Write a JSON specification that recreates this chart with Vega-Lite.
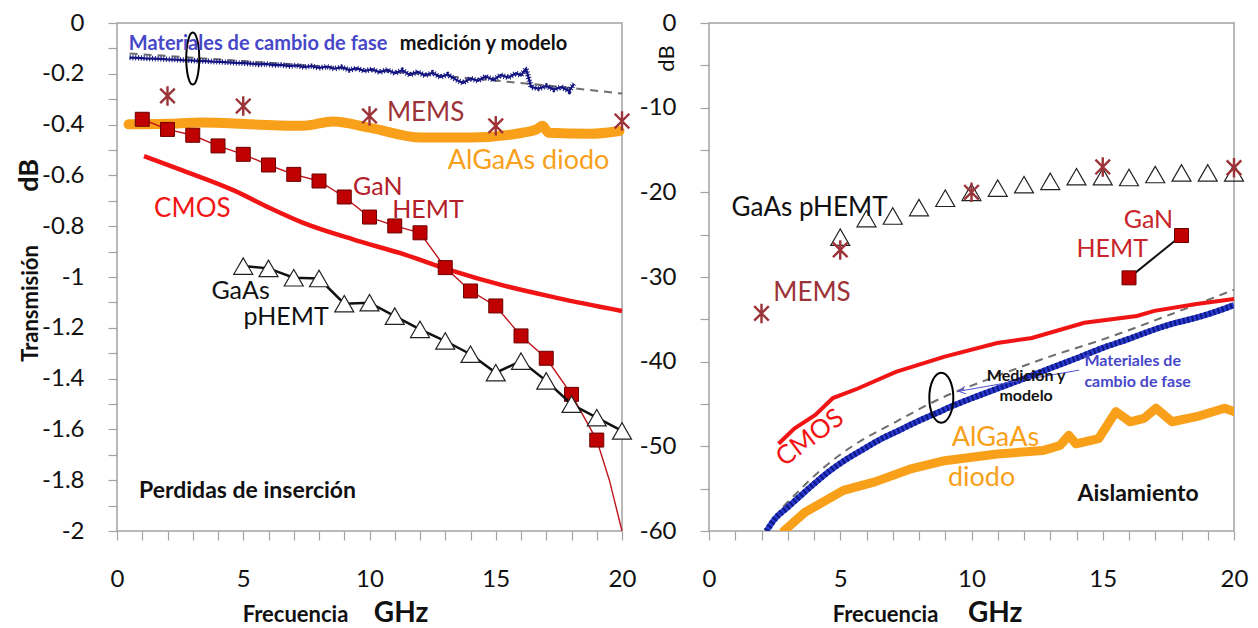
{
  "$schema": "https://vega.github.io/schema/vega-lite/v6.json",
  "background": "white",
  "padding": {"left": 15, "top": 10, "right": 4, "bottom": 0},
  "bounds": "flush",
  "spacing": 87,
  "config": {
    "font": "Lato",
    "view": {"stroke": "#a3a3a3", "strokeWidth": 1.5},
    "axis": {
      "grid": false,
      "domain": false,
      "tickColor": "#a3a3a3",
      "tickWidth": 1.2,
      "tickSize": 9,
      "labelFont": "Lato",
      "labelFontSize": 24,
      "labelColor": "#111111",
      "labelOverlap": false,
      "labelFlush": false,
      "labelBound": false,
      "titleFont": "Lato",
      "titleFontWeight": "bold",
      "titleColor": "#111111"
    }
  },
  "datasets": {
    "pcm_il": [
      {"f": 0.5, "db": -0.136}, {"f": 0.8, "db": -0.137}, {"f": 1.1, "db": -0.139}, {"f": 1.4, "db": -0.14},
      {"f": 1.7, "db": -0.141}, {"f": 2.0, "db": -0.143}, {"f": 2.3, "db": -0.144}, {"f": 2.6, "db": -0.146},
      {"f": 2.9, "db": -0.147}, {"f": 3.2, "db": -0.149}, {"f": 3.5, "db": -0.15}, {"f": 3.8, "db": -0.152},
      {"f": 4.1, "db": -0.153}, {"f": 4.4, "db": -0.155}, {"f": 4.7, "db": -0.157}, {"f": 5.0, "db": -0.158},
      {"f": 5.3, "db": -0.16}, {"f": 5.6, "db": -0.163}, {"f": 5.9, "db": -0.161}, {"f": 6.2, "db": -0.166},
      {"f": 6.5, "db": -0.165}, {"f": 6.8, "db": -0.17}, {"f": 7.1, "db": -0.167}, {"f": 7.4, "db": -0.174},
      {"f": 7.7, "db": -0.17}, {"f": 8.0, "db": -0.177}, {"f": 8.3, "db": -0.172}, {"f": 8.6, "db": -0.18},
      {"f": 8.9, "db": -0.174}, {"f": 9.2, "db": -0.185}, {"f": 9.5, "db": -0.178}, {"f": 9.8, "db": -0.189},
      {"f": 10.1, "db": -0.182}, {"f": 10.4, "db": -0.194}, {"f": 10.7, "db": -0.184}, {"f": 11.0, "db": -0.198},
      {"f": 11.3, "db": -0.186}, {"f": 11.6, "db": -0.205}, {"f": 11.9, "db": -0.192}, {"f": 12.2, "db": -0.207},
      {"f": 12.5, "db": -0.196}, {"f": 12.8, "db": -0.213}, {"f": 13.1, "db": -0.203}, {"f": 13.4, "db": -0.222},
      {"f": 13.7, "db": -0.236}, {"f": 14.0, "db": -0.218}, {"f": 14.3, "db": -0.228}, {"f": 14.6, "db": -0.21},
      {"f": 14.9, "db": -0.224}, {"f": 15.2, "db": -0.205}, {"f": 15.5, "db": -0.215}, {"f": 15.8, "db": -0.198},
      {"f": 16.0, "db": -0.206}, {"f": 16.2, "db": -0.18}, {"f": 16.4, "db": -0.252}, {"f": 16.7, "db": -0.258},
      {"f": 17.0, "db": -0.248}, {"f": 17.3, "db": -0.262}, {"f": 17.6, "db": -0.252}, {"f": 17.9, "db": -0.268},
      {"f": 18.1, "db": -0.24}
    ],
    "pcm_modelo_il": [
      {"f": 0.5, "db": -0.12}, {"f": 5, "db": -0.15}, {"f": 10, "db": -0.185},
      {"f": 15, "db": -0.227}, {"f": 18, "db": -0.256}, {"f": 20, "db": -0.278}
    ],
    "algaas_il": [
      {"f": 0.46, "db": -0.399}, {"f": 2, "db": -0.397}, {"f": 3.33, "db": -0.392}, {"f": 5.35, "db": -0.399},
      {"f": 7.35, "db": -0.405}, {"f": 8.56, "db": -0.388}, {"f": 10.0, "db": -0.412}, {"f": 12.04, "db": -0.451},
      {"f": 14.04, "db": -0.451}, {"f": 16.05, "db": -0.432}, {"f": 16.6, "db": -0.42}, {"f": 16.85, "db": -0.405},
      {"f": 17.1, "db": -0.432}, {"f": 18.73, "db": -0.436}, {"f": 19.9, "db": -0.425}
    ],
    "mems_il": [
      {"f": 2, "db": -0.287}, {"f": 5, "db": -0.327}, {"f": 10, "db": -0.366}, {"f": 15, "db": -0.405}, {"f": 20, "db": -0.386}
    ],
    "cmos_il": [
      {"f": 1.07, "db": -0.524}, {"f": 2.67, "db": -0.583}, {"f": 4.67, "db": -0.661}, {"f": 6.02, "db": -0.727},
      {"f": 7.35, "db": -0.786}, {"f": 9.35, "db": -0.852}, {"f": 11.37, "db": -0.911}, {"f": 13.1, "db": -0.97},
      {"f": 15.36, "db": -1.035}, {"f": 17.37, "db": -1.081}, {"f": 20, "db": -1.134}
    ],
    "gan_il": [
      {"f": 1, "db": -0.379, "marca": true}, {"f": 2, "db": -0.419, "marca": true}, {"f": 3, "db": -0.442, "marca": true},
      {"f": 4, "db": -0.484, "marca": true}, {"f": 5, "db": -0.517, "marca": true}, {"f": 6, "db": -0.559, "marca": true},
      {"f": 7, "db": -0.596, "marca": true}, {"f": 8, "db": -0.622, "marca": true}, {"f": 9, "db": -0.685, "marca": true},
      {"f": 10, "db": -0.764, "marca": true}, {"f": 11, "db": -0.799, "marca": true}, {"f": 12, "db": -0.826, "marca": true},
      {"f": 13, "db": -0.963, "marca": true}, {"f": 14, "db": -1.055, "marca": true}, {"f": 15, "db": -1.114, "marca": true},
      {"f": 16, "db": -1.232, "marca": true}, {"f": 17, "db": -1.32, "marca": true}, {"f": 18, "db": -1.462, "marca": true},
      {"f": 19, "db": -1.642, "marca": true}, {"f": 19.5, "db": -1.8, "marca": false}, {"f": 20, "db": -2.0, "marca": false}
    ],
    "gaas_il": [
      {"f": 5, "db": -0.957}, {"f": 6, "db": -0.966}, {"f": 7, "db": -1.003}, {"f": 8, "db": -1.006},
      {"f": 9, "db": -1.105}, {"f": 10, "db": -1.101}, {"f": 11, "db": -1.154}, {"f": 12, "db": -1.206},
      {"f": 13, "db": -1.252}, {"f": 14, "db": -1.304}, {"f": 15, "db": -1.377}, {"f": 16, "db": -1.331},
      {"f": 17, "db": -1.409}, {"f": 18, "db": -1.501}, {"f": 19, "db": -1.554}, {"f": 20, "db": -1.606}
    ],
    "gaas_iso": [
      {"f": 5, "db": -25.3}, {"f": 6, "db": -23.1}, {"f": 7, "db": -22.8}, {"f": 8, "db": -21.8},
      {"f": 9, "db": -20.7}, {"f": 10, "db": -20.0}, {"f": 11, "db": -19.5}, {"f": 12, "db": -19.1},
      {"f": 13, "db": -18.7}, {"f": 14, "db": -18.15}, {"f": 15, "db": -18.15}, {"f": 16, "db": -18.25},
      {"f": 17, "db": -17.9}, {"f": 18, "db": -17.7}, {"f": 19, "db": -17.7}, {"f": 20, "db": -17.7}
    ],
    "mems_iso": [
      {"f": 2, "db": -34.3}, {"f": 5, "db": -26.8}, {"f": 10, "db": -20.0}, {"f": 15, "db": -17.0}, {"f": 20, "db": -17.1}
    ],
    "gan_iso": [
      {"f": 16, "db": -30.1}, {"f": 18, "db": -25.1}
    ],
    "pcm_modelo_iso": [
      {"f": 2.19, "db": -59.8}, {"f": 2.7, "db": -57.6}, {"f": 3.25, "db": -55.8}, {"f": 4.3, "db": -52.7},
      {"f": 5.5, "db": -49.9}, {"f": 7.12, "db": -47.1}, {"f": 8.85, "db": -44.3}, {"f": 10.71, "db": -42.0},
      {"f": 12.98, "db": -39.4}, {"f": 14.98, "db": -37.4}, {"f": 17.6, "db": -34.4}, {"f": 20, "db": -31.5}
    ],
    "cmos_iso": [
      {"f": 2.65, "db": -49.7}, {"f": 3.25, "db": -47.9}, {"f": 4.05, "db": -46.3}, {"f": 4.72, "db": -44.3},
      {"f": 5.65, "db": -43.2}, {"f": 7.12, "db": -41.2}, {"f": 8.98, "db": -39.4}, {"f": 10.98, "db": -37.8},
      {"f": 12.3, "db": -37.2}, {"f": 14.3, "db": -35.4}, {"f": 16.3, "db": -34.6}, {"f": 16.97, "db": -34.0},
      {"f": 18.57, "db": -33.2}, {"f": 20, "db": -32.6}
    ],
    "pcm_iso": [
      {"f": 2.19, "db": -60}, {"f": 2.5, "db": -58.6}, {"f": 3.0, "db": -57.2}, {"f": 3.5, "db": -55.8},
      {"f": 4.05, "db": -54.3}, {"f": 4.6, "db": -52.9}, {"f": 5.25, "db": -51.5}, {"f": 5.9, "db": -50.3},
      {"f": 6.58, "db": -49.1}, {"f": 7.25, "db": -48.1}, {"f": 7.92, "db": -47.1}, {"f": 8.65, "db": -46.1},
      {"f": 9.38, "db": -45.1}, {"f": 10.2, "db": -44.1}, {"f": 10.97, "db": -43.2}, {"f": 12, "db": -42.0},
      {"f": 12.98, "db": -40.8}, {"f": 14, "db": -39.6}, {"f": 14.98, "db": -38.4}, {"f": 16, "db": -37.3},
      {"f": 16.97, "db": -36.2}, {"f": 17.8, "db": -35.4}, {"f": 18.57, "db": -34.8}, {"f": 19.2, "db": -34.2},
      {"f": 19.84, "db": -33.5}, {"f": 20, "db": -33.3}
    ],
    "algaas_iso": [
      {"f": 2.85, "db": -60}, {"f": 3.65, "db": -57.8}, {"f": 5.12, "db": -55.2}, {"f": 6.32, "db": -54.2},
      {"f": 7.65, "db": -52.7}, {"f": 8.98, "db": -51.7}, {"f": 10.98, "db": -50.9}, {"f": 12.71, "db": -50.5},
      {"f": 13.37, "db": -49.9}, {"f": 13.71, "db": -48.7}, {"f": 13.98, "db": -49.7}, {"f": 14.84, "db": -49.1},
      {"f": 15.5, "db": -45.9}, {"f": 16.04, "db": -47.1}, {"f": 16.57, "db": -46.7}, {"f": 17.03, "db": -45.5},
      {"f": 17.64, "db": -47.1}, {"f": 18.57, "db": -46.5}, {"f": 19.64, "db": -45.5}, {"f": 20, "db": -45.9}
    ]
  },
  "hconcat": [
    {
      "width": 505,
      "height": 508,
      "encoding": {
        "x": {
          "field": "f", "type": "quantitative",
          "scale": {"domain": [0, 20]},
          "axis": {
            "values": [0,1,2,3,4,5,6,7,8,9,10,11,12,13,14,15,16,17,18,19,20],
            "labelExpr": "datum.value % 5 === 0 ? datum.label : ''",
            "labelPadding": 27,
            "title": "Frecuencia",
            "titleFontSize": 22,
            "titleX": 178,
            "titleY": 83,
            "titleAlign": "center",
            "titleBaseline": "middle"
          }
        },
        "y": {
          "field": "db", "type": "quantitative",
          "scale": {"domain": [-2, 0]},
          "axis": {
            "values": [0,-0.1,-0.2,-0.3,-0.4,-0.5,-0.6,-0.7,-0.8,-0.9,-1,-1.1,-1.2,-1.3,-1.4,-1.5,-1.6,-1.7,-1.8,-1.9,-2],
            "labelExpr": "round(datum.value * 10) % 2 === 0 ? (datum.value < 0 ? '-' + format(-datum.value, '') : '0') : ''",
            "labelPadding": 24,
            "title": "Transmisión",
            "titleFontSize": 22,
            "titleAngle": 270,
            "titleX": -87,
            "titleY": 280,
            "titleAlign": "center",
            "titleBaseline": "middle"
          }
        }
      },
      "layer": [
        {"data": {"name": "pcm_modelo_il"}, "mark": {"type": "line", "color": "#6e6e6e", "strokeWidth": 2, "strokeDash": [8, 6], "interpolate": "monotone"}},
        {"data": {"name": "pcm_il"}, "mark": {"type": "line", "color": "#131380", "strokeWidth": 2.2}},
        {"data": {"name": "pcm_il"}, "mark": {"type": "line", "color": "#131380", "strokeWidth": 5.5, "strokeDash": [1, 1.8]}},
        {"data": {"name": "algaas_il"}, "mark": {"type": "line", "color": "#f9a01b", "strokeWidth": 10, "strokeCap": "round", "strokeJoin": "round", "interpolate": "monotone"}},
        {"data": {"name": "mems_il"}, "mark": {"type": "point", "shape": "M-0.75,-0.75L0.75,0.75M-0.75,0.75L0.75,-0.75M0,-1L0,1", "size": 380, "filled": false, "color": "#9c3338", "strokeWidth": 2.4, "opacity": 1}},
        {"data": {"name": "cmos_il"}, "mark": {"type": "line", "color": "#f01414", "strokeWidth": 4.5, "interpolate": "monotone"}},
        {"data": {"name": "gan_il"}, "mark": {"type": "line", "color": "#c0141c", "strokeWidth": 1.4}},
        {"data": {"name": "gan_il"}, "transform": [{"filter": "datum.marca"}], "mark": {"type": "point", "shape": "square", "size": 196, "filled": true, "fill": "#c00000", "stroke": "#6b0000", "strokeWidth": 1, "opacity": 1}},
        {"data": {"name": "gaas_il"}, "mark": {"type": "line", "color": "#111111", "strokeWidth": 2.5}},
        {"data": {"name": "gaas_il"}, "mark": {"type": "point", "shape": "triangle-up", "size": 360, "filled": true, "fill": "white", "stroke": "#222222", "strokeWidth": 1.2, "opacity": 1}},
        {"data": {"values": [{"f": 3.0, "db": -0.14}]}, "mark": {"type": "point", "shape": "M0,-1A0.25,1,0,1,1,0,1A0.25,1,0,1,1,0,-1Z", "size": 2704, "filled": false, "color": "#000000", "strokeWidth": 2, "opacity": 1}},
        {"data": {"values": [{"f": 10.69, "db": -0.354, "t": "MEMS"}]}, "mark": {"type": "text", "align": "left", "baseline": "middle", "fontSize": 26, "color": "#9c3338"}, "encoding": {"text": {"field": "t"}}},
        {"data": {"values": [{"f": 13.1, "db": -0.543, "t": "AlGaAs diodo"}]}, "mark": {"type": "text", "align": "left", "baseline": "middle", "fontSize": 27, "color": "#f9a01b"}, "encoding": {"text": {"field": "t"}}},
        {"data": {"values": [{"f": 9.35, "db": -0.645, "t": "GaN"}, {"f": 10.9, "db": -0.737, "t": "HEMT"}]}, "mark": {"type": "text", "align": "left", "baseline": "middle", "fontSize": 25, "color": "#b3202a"}, "encoding": {"text": {"field": "t"}}},
        {"data": {"values": [{"f": 1.47, "db": -0.733, "t": "CMOS"}]}, "mark": {"type": "text", "align": "left", "baseline": "middle", "fontSize": 26, "color": "#f01414"}, "encoding": {"text": {"field": "t"}}},
        {"data": {"values": [{"f": 3.74, "db": -1.056, "t": "GaAs"}, {"f": 5.01, "db": -1.157, "t": "pHEMT"}]}, "mark": {"type": "text", "align": "left", "baseline": "middle", "fontSize": 25, "color": "#111111"}, "encoding": {"text": {"field": "t"}}},
        {"data": {"values": [{"f": 0.87, "db": -1.843, "t": "Perdidas de inserción"}]}, "mark": {"type": "text", "align": "left", "baseline": "middle", "fontSize": 23, "fontWeight": "bold", "color": "#111111"}, "encoding": {"text": {"field": "t"}}},
        {"data": {"values": [{"f": 0.47, "db": -0.083, "t": "Materiales de cambio de fase"}]}, "mark": {"type": "text", "align": "left", "baseline": "middle", "fontSize": 20, "fontWeight": "bold", "color": "#4747c9"}, "encoding": {"text": {"field": "t"}}},
        {"data": {"values": [{"f": 11.2, "db": -0.083, "t": "medición y modelo"}]}, "mark": {"type": "text", "align": "left", "baseline": "middle", "fontSize": 20, "fontWeight": "bold", "color": "#111111"}, "encoding": {"text": {"field": "t"}}},
        {"data": {"values": [{"f": -3.45, "db": -0.6, "t": "dB"}]}, "mark": {"type": "text", "align": "center", "baseline": "middle", "angle": 270, "fontSize": 27, "fontWeight": "bold", "color": "#111111"}, "encoding": {"text": {"field": "t"}}},
        {"data": {"values": [{"f": 11.25, "db": -2.327, "t": "GHz"}]}, "mark": {"type": "text", "align": "center", "baseline": "middle", "fontSize": 28, "fontWeight": "bold", "color": "#111111"}, "encoding": {"text": {"field": "t"}}}
      ]
    },
    {
      "width": 525,
      "height": 508,
      "encoding": {
        "x": {
          "field": "f", "type": "quantitative",
          "scale": {"domain": [0, 20]},
          "axis": {
            "values": [0,1,2,3,4,5,6,7,8,9,10,11,12,13,14,15,16,17,18,19,20],
            "labelExpr": "datum.value % 5 === 0 ? datum.label : ''",
            "labelPadding": 27,
            "title": "Frecuencia",
            "titleFontSize": 22,
            "titleX": 176,
            "titleY": 83,
            "titleAlign": "center",
            "titleBaseline": "middle"
          }
        },
        "y": {
          "field": "db", "type": "quantitative",
          "scale": {"domain": [-60, 0]},
          "axis": {
            "values": [0,-5,-10,-15,-20,-25,-30,-35,-40,-45,-50,-55,-60],
            "labelExpr": "datum.value % 10 === 0 ? (datum.value < 0 ? '-' + format(-datum.value, '') : '0') : ''",
            "labelPadding": 24,
            "title": "dB",
            "titleFontSize": 22,
            "titleFontWeight": "normal",
            "titleAngle": 270,
            "titleX": -43,
            "titleY": 35,
            "titleAlign": "center",
            "titleBaseline": "middle"
          }
        }
      },
      "layer": [
        {"data": {"name": "gaas_iso"}, "mark": {"type": "point", "shape": "triangle-up", "size": 360, "filled": false, "color": "#222222", "strokeWidth": 1.2, "opacity": 1}},
        {"data": {"name": "mems_iso"}, "mark": {"type": "point", "shape": "M-0.75,-0.75L0.75,0.75M-0.75,0.75L0.75,-0.75M0,-1L0,1", "size": 380, "filled": false, "color": "#9c3338", "strokeWidth": 2.4, "opacity": 1}},
        {"data": {"name": "gan_iso"}, "mark": {"type": "line", "color": "#111111", "strokeWidth": 2}},
        {"data": {"name": "gan_iso"}, "mark": {"type": "point", "shape": "square", "size": 196, "filled": true, "fill": "#c00000", "stroke": "#6b0000", "strokeWidth": 1, "opacity": 1}},
        {"data": {"name": "pcm_modelo_iso"}, "mark": {"type": "line", "color": "#6e6e6e", "strokeWidth": 2, "strokeDash": [8, 6], "interpolate": "monotone", "clip": true}},
        {"data": {"name": "cmos_iso"}, "mark": {"type": "line", "color": "#f01414", "strokeWidth": 4}},
        {"data": {"name": "pcm_iso"}, "mark": {"type": "line", "color": "#2a3ad0", "strokeWidth": 6, "interpolate": "monotone", "clip": true}},
        {"data": {"name": "pcm_iso"}, "mark": {"type": "line", "color": "#0c1880", "strokeWidth": 6, "strokeDash": [2, 2.5], "interpolate": "monotone", "clip": true}},
        {"data": {"name": "algaas_iso"}, "mark": {"type": "line", "color": "#f9a01b", "strokeWidth": 9, "strokeJoin": "round", "strokeCap": "round", "clip": true}},
        {"data": {"values": [{"f": 8.85, "db": -44.25}]}, "mark": {"type": "point", "shape": "M0,-1A0.48,1,0,1,1,0,1A0.48,1,0,1,1,0,-1Z", "size": 2500, "filled": false, "color": "#000000", "strokeWidth": 2, "opacity": 1}},
        {"data": {"values": [{"f": 14.1, "db": -41.0, "f2": 9.51, "db2": -43.5}]}, "mark": {"type": "rule", "color": "#5050d0", "strokeWidth": 1}, "encoding": {"x2": {"field": "f2"}, "y2": {"field": "db2"}}},
        {"data": {"values": [{"f": 9.51, "db": -43.5}]}, "mark": {"type": "point", "shape": "M1,-0.55L0,0L1,0.55", "size": 196, "angle": 350, "filled": false, "color": "#5050d0", "strokeWidth": 1, "opacity": 1}},
        {"data": {"values": [{"f": 0.86, "db": -21.8, "t": "GaAs pHEMT"}]}, "mark": {"type": "text", "align": "left", "baseline": "middle", "fontSize": 26, "color": "#111111"}, "encoding": {"text": {"field": "t"}}},
        {"data": {"values": [{"f": 2.45, "db": -31.9, "t": "MEMS"}]}, "mark": {"type": "text", "align": "left", "baseline": "middle", "fontSize": 26, "color": "#9c3338"}, "encoding": {"text": {"field": "t"}}},
        {"data": {"values": [{"f": 15.8, "db": -23.3, "t": "GaN"}, {"f": 14.0, "db": -26.7, "t": "HEMT"}]}, "mark": {"type": "text", "align": "left", "baseline": "middle", "fontSize": 25, "color": "#c8242a"}, "encoding": {"text": {"field": "t"}}},
        {"data": {"values": [{"f": 3.85, "db": -49.0, "t": "CMOS"}]}, "mark": {"type": "text", "align": "center", "baseline": "middle", "angle": 323, "fontSize": 26, "color": "#f01414"}, "encoding": {"text": {"field": "t"}}},
        {"data": {"values": [{"f": 9.25, "db": -49.0, "t": "AlGaAs"}, {"f": 9.1, "db": -53.7, "t": "diodo"}]}, "mark": {"type": "text", "align": "left", "baseline": "middle", "fontSize": 27, "color": "#f9a01b"}, "encoding": {"text": {"field": "t"}}},
        {"data": {"values": [{"f": 12.08, "db": -41.7, "t": "Medición y"}, {"f": 12.08, "db": -44.1, "t": "modelo"}]}, "mark": {"type": "text", "align": "center", "baseline": "middle", "fontSize": 16, "fontWeight": "bold", "color": "#111111"}, "encoding": {"text": {"field": "t"}}},
        {"data": {"values": [{"f": 14.3, "db": -39.9, "t": "Materiales de"}, {"f": 14.3, "db": -42.4, "t": "cambio de fase"}]}, "mark": {"type": "text", "align": "left", "baseline": "middle", "fontSize": 16, "fontWeight": "bold", "color": "#4747c9"}, "encoding": {"text": {"field": "t"}}},
        {"data": {"values": [{"f": 14.04, "db": -55.6, "t": "Aislamiento"}]}, "mark": {"type": "text", "align": "left", "baseline": "middle", "fontSize": 23, "fontWeight": "bold", "color": "#111111"}, "encoding": {"text": {"field": "t"}}},
        {"data": {"values": [{"f": 10.9, "db": -69.8, "t": "GHz"}]}, "mark": {"type": "text", "align": "center", "baseline": "middle", "fontSize": 28, "fontWeight": "bold", "color": "#111111"}, "encoding": {"text": {"field": "t"}}}
      ]
    }
  ]
}
